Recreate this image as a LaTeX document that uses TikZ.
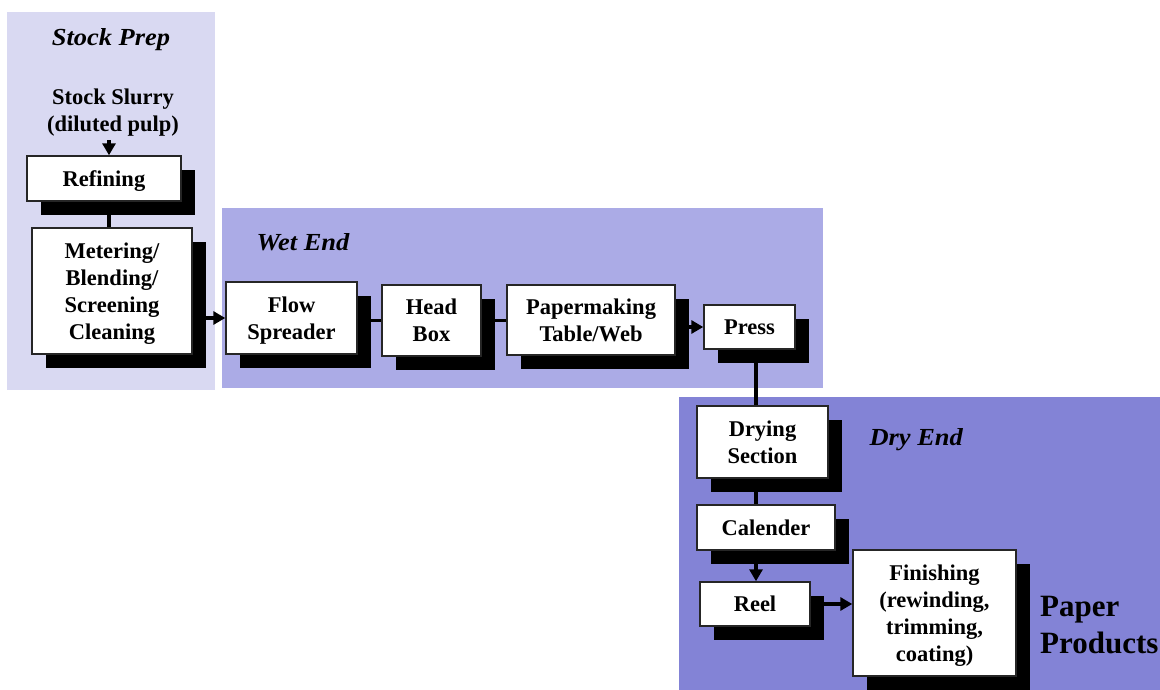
\documentclass[tikz,border=0pt]{standalone}
\usepackage{fontspec}
\setmainfont{Liberation Serif}
\newfontfamily\titlefont[FakeStretch=1.08]{Liberation Serif}
\usetikzlibrary{shadows,arrows.meta}
\definecolor{prepfill}{RGB}{217,217,242}
\definecolor{wetfill}{RGB}{171,171,230}
\definecolor{dryfill}{RGB}{131,131,214}
\begin{document}
\begin{tikzpicture}[x=1pt,y=-1pt,
  stage/.style={draw=black!85,line width=1.4pt,fill=white,align=center,
    font=\bfseries\fontsize{22.5}{27}\selectfont,inner sep=0pt,text depth=-2pt,
    drop shadow={shadow xshift=14pt,shadow yshift=-14pt,fill=black,opacity=1}},
  title/.style={font=\titlefont\bfseries\itshape\fontsize{24.5}{28}\selectfont},
  link/.style={line width=3.2pt,draw=black},
  flow/.style={link,-{Triangle[length=12pt,width=13pt]}}]
\useasboundingbox (0,0) rectangle (1160,690);
% section panels
\fill[prepfill] (7,12) rectangle (215,390);
\fill[wetfill] (222,208) rectangle (823,388);
\fill[dryfill] (679,397) rectangle (1160,690);
\node[title] (tprep) at (111,40) {Stock Prep};
\node[title,anchor=west] (twet) at (253,242) {Wet End};
\node[title,anchor=west] (tdry) at (866,440) {Dry End};
% feed
\node[align=center,font=\bfseries\fontsize{22.5}{27}\selectfont] (slurry) at (113,113) {Stock Slurry\\(diluted pulp)};
% process boxes
\node[stage,minimum width=154pt,minimum height=45pt] (refining) at (104,178.5) {Refining};
\node[stage,minimum width=160pt,minimum height=126pt] (metering) at (112,291) {Metering/\\Blending/\\Screening\\Cleaning};
\node[stage,minimum width=131pt,minimum height=72pt] (spreader) at (291.5,318) {Flow\\Spreader};
\node[stage,minimum width=99pt,minimum height=71pt] (headbox) at (431.5,320.5) {Head\\Box};
\node[stage,minimum width=168pt,minimum height=70pt] (table) at (591,320) {Papermaking\\Table/Web};
\node[stage,minimum width=91pt,minimum height=44pt] (press) at (749.5,327) {Press};
\node[stage,minimum width=131pt,minimum height=72pt] (drying) at (762.5,442) {Drying\\Section};
\node[stage,minimum width=138pt,minimum height=45pt] (calender) at (766,527.5) {Calender};
\node[stage,minimum width=110pt,minimum height=44pt] (reel) at (755,604) {Reel};
\node[stage,minimum width=163pt,minimum height=126pt] (finishing) at (934.5,613) {Finishing\\(rewinding,\\trimming,\\coating)};
\node[anchor=west,align=left,inner sep=0pt,font=\bfseries\fontsize{31}{37}\selectfont] (products) at (1040,625) {Paper\\Products};
% connectors
\coordinate (feedcol) at (109,0);
\coordinate (col) at (756,0);
\draw[flow] (slurry.south -| feedcol) -- (refining.north -| feedcol);
\draw[link] (refining.south -| feedcol) -- (metering.north -| feedcol);
\draw[flow] (metering.east |- spreader.west) -- (spreader.west);
\draw[link] (spreader.east |- headbox.west) -- (headbox.west);
\draw[link] (headbox.east) -- (table.west |- headbox.east);
\draw[flow] (table.east |- press.west) -- (press.west);
\draw[link] (press.south -| col) -- (drying.north -| col);
\draw[link] (drying.south -| col) -- (calender.north -| col);
\draw[flow] (calender.south -| col) -- (reel.north -| col);
\draw[flow] (reel.east) -- (finishing.west |- reel.east);
\end{tikzpicture}
\end{document}
